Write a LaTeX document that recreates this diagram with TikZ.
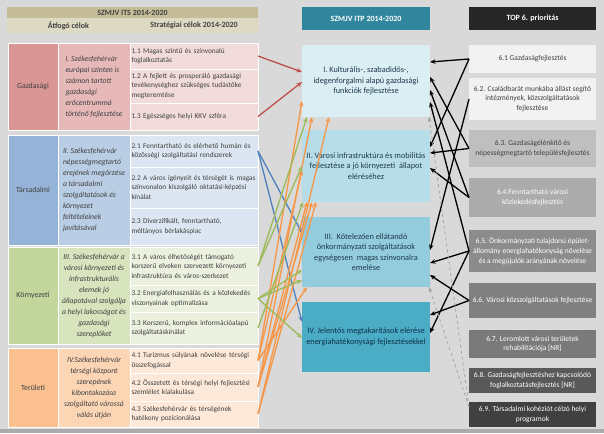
\documentclass[tikz,border=0pt]{standalone}
\usepackage{fontspec}
\setmainfont{Carlito}
\usetikzlibrary{arrows.meta,calc}
\definecolor{bg}{HTML}{D9D9D9}
\definecolor{txt}{HTML}{404040}
\definecolor{khA}{HTML}{C4BD97}
\definecolor{khB}{HTML}{DDD9C3}
\definecolor{gzA}{HTML}{D99694}\definecolor{gzB}{HTML}{E6B9B8}\definecolor{gzC}{HTML}{F2DCDB}
\definecolor{trA}{HTML}{95B3D7}\definecolor{trB}{HTML}{B9CDE5}\definecolor{trC}{HTML}{DCE6F2}
\definecolor{kzA}{HTML}{C3D69B}\definecolor{kzB}{HTML}{D7E4BD}\definecolor{kzC}{HTML}{EBF1DE}
\definecolor{tlA}{HTML}{FAC090}\definecolor{tlB}{HTML}{FCD5B5}\definecolor{tlC}{HTML}{FDE9D9}
\definecolor{itpH}{HTML}{31859C}
\definecolor{itpA}{HTML}{DBEEF4}\definecolor{itpB}{HTML}{B7DEE8}\definecolor{itpC}{HTML}{93CDDD}\definecolor{itpD}{HTML}{4BACC6}
\definecolor{itpT}{HTML}{1F3A4D}\definecolor{itpTD}{HTML}{10304A}
\definecolor{topH}{HTML}{262626}
\definecolor{arRed}{HTML}{C0504D}\definecolor{arBlue}{HTML}{4F81BD}
\definecolor{arGreen}{HTML}{9BBB59}\definecolor{arOrange}{HTML}{F79646}
\begin{document}
\begin{tikzpicture}[x=1pt,y=-1pt,
  hdr/.style={anchor=north west, inner sep=0pt, outer sep=0pt, align=center,
    font=\bfseries\fontsize{8}{9}\selectfont},
  cat/.style={anchor=north west, draw=white, line width=0.6pt, inner sep=0pt, outer sep=0pt,
    minimum width=50, align=center, text=txt, font=\fontsize{7.8}{9}\selectfont},
  goal/.style={anchor=north west, draw=white, line width=0.6pt, inner sep=0pt, outer sep=0pt,
    minimum width=72, text=txt, font=\itshape\fontsize{7.7}{11}\selectfont},
  sub/.style={anchor=north west, draw=white, line width=0.6pt, inner xsep=1.5pt, inner ysep=0pt, outer sep=0pt,
    minimum width=128, align=left, text=txt, font=\fontsize{7.3}{9.5}\selectfont},
  itp/.style={anchor=north west, inner sep=0pt, outer sep=0pt, minimum width=128, align=center,
    text=itpT, font=\fontsize{8.3}{10.5}\selectfont},
  top/.style={anchor=north west, inner sep=0pt, outer sep=0pt, minimum width=127, align=center,
    font=\fontsize{7.5}{9.8}\selectfont},
  arr/.style={line width=1.3pt, -{Stealth[length=5.5pt,width=4.5pt]}},
  redA/.style={arr, draw=arRed},
  blueA/.style={arr, draw=arBlue},
  greenA/.style={arr, draw=arGreen},
  orA/.style={arr, draw=arOrange},
  blkA/.style={arr, draw=black},
  dashA/.style={dashed, draw=gray!75, line width=0.7pt, -{Stealth[length=5pt,width=4pt]}}
]
\useasboundingbox (0,0) rectangle (604,433);
\fill[bg] (0,0) rectangle (604,433);
\fill[gray!65] (0,429) rectangle (604,433);

% ---------- ITS header ----------
\node[hdr, fill=khA, minimum width=251, minimum height=11, text=txt] (its) at (7,7) {SZMJV ITS 2014-2020};
\node[hdr, fill=khB, minimum width=123, minimum height=15, text=txt] (atf) at (7,18) {Átfogó célok};
\node[hdr, fill=khB, minimum width=128, minimum height=15, text=txt] (strat) at (130,18) {Stratégiai célok 2014-2020};

% ---------- Gazdasági ----------
\node[cat, fill=gzA, minimum height=87] (c1) at (8,43) {Gazdasági};
\node[goal, fill=gzB, minimum height=87, align=left] (g1) at (58,43) {I. Székesfehérvár\\európai szinten is\\számon tartott\\gazdasági\\erőcentrummá\\történő fejlesztése};
\node[sub, fill=gzC, minimum height=26, text width=125pt] (r11) at (130,43) {1.1 Magas szintű és színvonalú\\foglalkoztatás};
\node[sub, fill=gzC, minimum height=34, text width=125pt] (r12) at (130,69) {1.2 A fejlett és prosperáló gazdasági\\tevékenységhez szükséges tudástőke\\megteremtése};
\node[sub, fill=gzC, minimum height=27, text width=125pt] (r13) at (130,103) {1.3 Egészséges helyi KKV szféra};

% ---------- Társadalmi ----------
\node[cat, fill=trA, minimum height=110] (c2) at (8,135) {Társadalmi};
\node[goal, fill=trB, minimum height=110, align=left] (g2) at (58,135) {II. Székesfehérvár\\népességmegtartó\\erejének megőrzése\\a társadalmi\\szolgáltatások és\\környezet\\feltételeinek\\javításával};
\node[sub, fill=trC, minimum height=32, text width=125pt] (r21) at (130,135) {2.1 Fenntartható és elérhető humán és\\közösségi szolgáltatási rendszerek};
\node[sub, fill=trC, minimum height=41, text width=125pt] (r22) at (130,167) {\mbox{2.2 A város igényeit és térségét is magas}\\színvonalon kiszolgáló oktatási-képzési\\kínálat};
\node[sub, fill=trC, minimum height=37, text width=125pt] (r23) at (130,208) {2.3 Diverzifikált, fenntartható,\\méltányos bérlakáspiac};

% ---------- Környezeti ----------
\node[cat, fill=kzA, minimum height=97] (c3) at (8,247) {Környezeti};
\node[goal, fill=kzB, minimum height=97, align=center] (g3) at (58,247) {III. Székesfehérvár a\\városi környezeti és\\infrastrukturális\\elemek jó\\állapotával szolgálja\\a helyi lakosságot és\\gazdasági\\szereplőket};
\node[sub, fill=kzC, minimum height=38, text width=125pt] (r31) at (130,247) {3.1 A város élhetőségét támogató\\\mbox{korszerű elveken szervezett környezeti}\\infrastruktúra és város-szerkezet};
\node[sub, fill=kzC, minimum height=27, text width=125pt] (r32) at (130,285) {\mbox{3.2 Energiafelhasználás és a közlekedés}\\viszonyainak optimalizása};
\node[sub, fill=kzC, minimum height=32, text width=125pt] (r33) at (130,312) {3.3 Korszerű, komplex információalapú\\szolgáltatáskínálat};

% ---------- Területi ----------
\node[cat, fill=tlA, minimum height=79] (c4) at (8,348) {Területi};
\node[goal, fill=tlB, minimum height=79, align=center] (g4) at (58,348) {IV.Székesfehérvár\\térségi központ\\szerepének\\kibontakozása\\szolgáltató várossá\\válás útján};
\node[sub, fill=tlC, minimum height=25, text width=125pt] (r41) at (130,348) {4.1 Turizmus súlyának növelése térségi\\összefogással};
\node[sub, fill=tlC, minimum height=28, text width=125pt] (r42) at (130,373) {\mbox{4.2 Összetett és térségi helyi fejlesztési}\\szemlélet kialakulása};
\node[sub, fill=tlC, minimum height=26, text width=125pt] (r43) at (130,401) {4.3 Székesfehérvár és térségének\\hatékony pozícionálása};

% ---------- ITP ----------
\node[hdr, fill=itpH, minimum width=128, minimum height=23, text=white] (itph) at (302,7) {SZMJV ITP 2014-2020};
\node[itp, fill=itpA, minimum height=72] (I) at (302,45) {I. Kulturális-, szabadidős-,\\idegenforgalmi alapú gazdasági\\funkciók fejlesztése};
\node[itp, fill=itpB, minimum height=72] (II) at (302,130) {II. Városi infrastruktúra és mobilitás\\fejlesztése a jó környezeti\ \ állapot\\eléréséhez};
\node[itp, fill=itpC, minimum height=70] (III) at (302,217) {III.\ \ Kötelezően ellátandó\\önkormányzati szolgáltatások\\egységesen\ \ magas színvonalra\\emelése};
\node[itp, fill=itpD, minimum height=70, text=itpTD] (IV) at (302,302) {IV. Jelentős megtakarítások elérése\\energiahatékonysági fejlesztésekkel};

% ---------- TOP ----------
\node[hdr, fill=topH, minimum width=127, minimum height=23, text=white] (toph) at (469,7) {TOP 6. prioritás};
\node[top, fill=gray!10, minimum height=28, text=txt] (t61) at (469,45) {6.1 Gazdaságfejlesztés};
\node[top, fill=gray!10, minimum height=42, text=txt] (t62) at (469,78) {6.2. Családbarát munkába állást segítő\\intézmények, közszolgáltatások\\fejlesztése};
\node[top, fill=gray!50, minimum height=37, text=txt] (t63) at (469,130) {6.3. Gazdaságélénkítő és\\népességmegtartó településfejlesztés};
\node[top, fill=gray!65, minimum height=39, text=white] (t64) at (469,178) {6.4.Fenntartható városi\\közlekedésfejlesztés};
\node[top, fill=black!45, minimum height=42, text=white] (t65) at (469,230) {6.5. Önkormányzati tulajdonú épület-\\állomány energiahatékonyság növelése\\és a megújulók arányának növelése};
\node[top, fill=black!50, minimum height=35, text=white] (t66) at (469,283) {6.6. Városi közszolgáltatások fejlesztése};
\node[top, fill=black!52, minimum height=28, text=white] (t67) at (469,330) {6.7. Leromlott városi területek\\rehabilitációja [NR]};
\node[top, fill=black!65, minimum height=25, text=white] (t68) at (469,368) {6.8. Gazdaságfejlesztéshez kapcsolódó\\foglalkoztatásfejlesztés [NR]};
\node[top, fill=black!75, minimum height=25, text=white] (t69) at (469,402) {6.9. Társadalmi kohéziót célzó helyi\\programok};

% ---------- left connectors ----------
\draw[redA] (r11.east) -- ([yshift=-27pt]I.north west);
\draw[redA] (r13.east) -- ([yshift=-37pt]I.north west);

\draw[blueA] (r21.east) -- ([yshift=-16pt]III.north west);
\draw[blueA] (r21.east) -- ([yshift=-20pt]IV.north west);

\draw[orA] (r41.east) -- ([yshift=-56pt]I.north west);
\draw[orA] (r41.east) -- ([yshift=-40pt]II.north west);
\draw[orA] (r41.east) -- ([xshift=5pt]III.south west);
\draw[orA] (r42.east) -- ([xshift=10pt]I.south west);
\draw[orA] (r42.east) -- ([xshift=5pt]II.south west);
\draw[orA] (r42.east) -- ([xshift=10pt]II.south west);
\draw[orA] (r43.east) -- ([xshift=27pt]I.south west);
\draw[orA] (r43.east) -- ([xshift=14pt]II.south west);

\draw[greenA] (r31.east) -- ([xshift=5pt]I.south west);
\draw[greenA] (r31.east) -- ([yshift=-36pt]II.north west);
\draw[greenA] (r33.east) -- ([xshift=1pt]II.south west);
\draw[greenA] (r32.east) -- ([yshift=-53pt]III.north west);
\draw[greenA] (r32.east) -- ([yshift=-63pt]III.north west);
\draw[greenA] (r32.east) -- ([yshift=-36pt]IV.north west);

% ---------- right connectors ----------
\draw[blkA] (t61.west) -- ([yshift=-17pt]I.north east);
\draw[blkA] (t61.west) -- ([yshift=-17pt]II.north east);
\draw[blkA] (t62.west) -- ([yshift=-33pt]III.north east);
\draw[blkA] (t63.west) -- ([yshift=-32pt]I.north east);
\draw[blkA] (t63.west) -- ([yshift=-23pt]II.north east);
\draw[blkA] (t64.west) -- ([yshift=-45pt]I.north east);
\draw[blkA] (t64.west) -- ([yshift=-38pt]II.north east);
\draw[blkA] (t65.west) -- ([yshift=-57pt]I.north east);
\draw[blkA] (t65.west) -- ([yshift=-46pt]III.north east);
\draw[blkA] (t65.west) -- ([yshift=-31pt]IV.north east);
\draw[blkA] (t66.west) -- ([yshift=-58pt]III.north east);
\draw[blkA] (t66.west) -- ([yshift=-13pt]IV.north east);

\draw[dashA] ([yshift=-5pt]t69.north west) -- ([xshift=-1pt]I.south east);
\draw[dashA] ([yshift=-5pt]t69.north west) -- ([xshift=-1pt]III.south east);
\end{tikzpicture}
\end{document}
